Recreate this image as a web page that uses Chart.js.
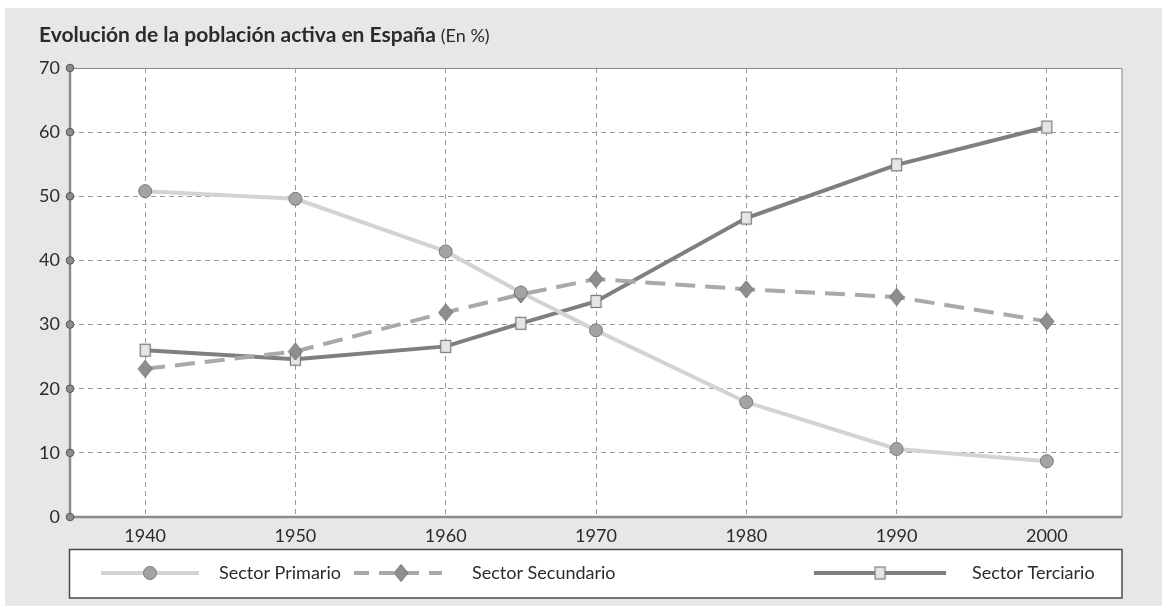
<!DOCTYPE html>
<html>
<head>
<meta charset="utf-8">
<script src="https://cdn.jsdelivr.net/npm/chart.js@4.4.1/dist/chart.umd.min.js"></script>
<style>
  html, body { margin: 0; padding: 0; background: #ffffff; }
  #wrap { width: 1162px; height: 606px; position: relative; }
</style>
</head>
<body>
<div id="wrap"><canvas id="c" width="1162" height="606"></canvas></div>
<script>
// ---- Data ----
const years = [1940, 1950, 1960, 1965, 1970, 1980, 1990, 2000];
const primario = [50.8, 49.6, 41.4, 35.0, 29.1, 17.9, 10.6, 8.7];
const secundario = [23.1, 25.8, 31.9, 34.7, 37.1, 35.5, 34.3, 30.5];
const terciario = [26.0, 24.6, 26.6, 30.2, 33.6, 46.6, 54.9, 60.8];
const xTickLabels = [1940, 1950, 1960, 1970, 1980, 1990, 2000];
const yTickLabels = [0, 10, 20, 30, 40, 50, 60, 70];
const seriesNames = ['Sector Primario', 'Sector Secundario', 'Sector Terciario'];
const titleBold = 'Evolución de la población activa en España';
const titleNormal = '(En %)';

const FONT = 'Lato, "Open Sans", sans-serif';
const TEXT = '#2b2b2b';

function makeDiamond(w, h, fill, stroke) {
  const c = document.createElement('canvas');
  c.width = w + 2; c.height = h + 2;
  const g = c.getContext('2d');
  g.beginPath();
  g.moveTo(c.width / 2, 1);
  g.lineTo(c.width - 1, c.height / 2);
  g.lineTo(c.width / 2, c.height - 1);
  g.lineTo(1, c.height / 2);
  g.closePath();
  g.fillStyle = fill; g.fill();
  g.strokeStyle = stroke; g.lineWidth = 1; g.stroke();
  return c;
}
function makeRect(w, h, fill, stroke) {
  const c = document.createElement('canvas');
  c.width = w + 2; c.height = h + 2;
  const g = c.getContext('2d');
  g.fillStyle = fill; g.fillRect(1, 1, w, h);
  g.strokeStyle = stroke; g.lineWidth = 1.2; g.strokeRect(1.5, 1.5, w - 1, h - 1);
  return c;
}
const diamondImg = makeDiamond(14, 17, '#8e8e90', '#6f6f6f');
const rectImg = makeRect(11, 13, '#e6e6e8', '#7a7a7a');

const toPts = arr => years.map((y, i) => ({ x: y, y: arr[i] }));

const framePlugin = {
  id: 'frame',
  beforeDraw(chart) {
    const ctx = chart.ctx, a = chart.chartArea;
    ctx.save();
    ctx.fillStyle = '#ffffff';
    ctx.fillRect(0, 0, chart.width, chart.height);
    ctx.fillStyle = '#e6e7e8';
    ctx.fillRect(5, 8, chart.width - 5, chart.height - 8);
    ctx.fillStyle = '#ffffff';
    ctx.fillRect(a.left, a.top, a.right - a.left, a.bottom - a.top);
    ctx.restore();
  },
  beforeDatasetsDraw(chart) {
    const ctx = chart.ctx, a = chart.chartArea;
    const ys = chart.scales.y;
    ctx.save();
    ctx.strokeStyle = '#8a8a8a'; ctx.lineWidth = 1;
    ctx.beginPath(); ctx.moveTo(a.left, a.top + 0.5); ctx.lineTo(a.right, a.top + 0.5); ctx.stroke();
    ctx.strokeStyle = '#a8a8a8'; ctx.lineWidth = 1.5;
    ctx.beginPath(); ctx.moveTo(a.right, a.top); ctx.lineTo(a.right, a.bottom); ctx.stroke();
    ctx.strokeStyle = '#8a8a8a'; ctx.lineWidth = 2.5;
    ctx.beginPath(); ctx.moveTo(a.left, a.top); ctx.lineTo(a.left, a.bottom); ctx.lineTo(a.right, a.bottom); ctx.stroke();
    yTickLabels.forEach(v => {
      const py = ys.getPixelForValue(v);
      ctx.beginPath(); ctx.arc(a.left, py, 3.8, 0, Math.PI * 2);
      ctx.fillStyle = '#8c8c8c'; ctx.fill();
      ctx.strokeStyle = '#555555'; ctx.lineWidth = 1; ctx.stroke();
    });
    ctx.restore();
  },
  afterDraw(chart) {
    const ctx = chart.ctx;
    ctx.save();
    ctx.textBaseline = 'alphabetic';
    ctx.fillStyle = TEXT;
    ctx.font = 'bold 21px ' + FONT;
    ctx.fillText(titleBold, 39, 42);
    const w = ctx.measureText(titleBold).width;
    ctx.font = '18px ' + FONT;
    ctx.fillText(titleNormal, 39 + w + 5, 42);
    // legend box
    ctx.fillStyle = '#ffffff';
    ctx.fillRect(69.5, 549.5, 1052.5, 48.5);
    ctx.strokeStyle = '#4a4a4a'; ctx.lineWidth = 1.5;
    ctx.strokeRect(69.5, 549.5, 1052.5, 48.5);
    const ly = 573;
    ctx.lineWidth = 4; ctx.strokeStyle = '#d3d3d3'; ctx.setLineDash([]);
    ctx.beginPath(); ctx.moveTo(101, ly); ctx.lineTo(199, ly); ctx.stroke();
    ctx.beginPath(); ctx.arc(150, ly, 6.5, 0, Math.PI * 2);
    ctx.fillStyle = '#a3a3a5'; ctx.fill(); ctx.strokeStyle = '#7a7a7a'; ctx.lineWidth = 1; ctx.stroke();
    ctx.lineWidth = 4; ctx.strokeStyle = '#a9a9a9'; ctx.setLineDash([15, 10]);
    ctx.beginPath(); ctx.moveTo(354, ly); ctx.lineTo(442, ly); ctx.stroke();
    ctx.setLineDash([]);
    ctx.drawImage(diamondImg, 401 - diamondImg.width / 2, ly - diamondImg.height / 2);
    ctx.lineWidth = 4; ctx.strokeStyle = '#7f7f7f';
    ctx.beginPath(); ctx.moveTo(814, ly); ctx.lineTo(946, ly); ctx.stroke();
    ctx.drawImage(rectImg, 880 - rectImg.width / 2, ly - rectImg.height / 2);
    ctx.fillStyle = TEXT; ctx.font = '18px ' + FONT; ctx.textBaseline = 'middle';
    ctx.fillText(seriesNames[0], 219, ly);
    ctx.fillText(seriesNames[1], 472, ly);
    ctx.fillText(seriesNames[2], 972, ly);
    ctx.restore();
  }
};

new Chart(document.getElementById('c'), {
  type: 'line',
  data: {
    datasets: [
      {
        label: seriesNames[0], data: toPts(primario),
        borderColor: '#d3d3d3', borderWidth: 4,
        pointStyle: 'circle', pointRadius: 6.5,
        pointBackgroundColor: '#a3a3a5', pointBorderColor: '#7a7a7a', pointBorderWidth: 1,
        tension: 0
      },
      {
        label: seriesNames[1], data: toPts(secundario),
        borderColor: '#a9a9a9', borderWidth: 4, borderDash: [20, 10],
        pointStyle: diamondImg, pointRadius: 8,
        tension: 0
      },
      {
        label: seriesNames[2], data: toPts(terciario),
        borderColor: '#7f7f7f', borderWidth: 4,
        pointStyle: rectImg, pointRadius: 7,
        tension: 0
      }
    ]
  },
  options: {
    responsive: false,
    animation: false,
    events: [],
    layout: { padding: { top: 68, right: 40, left: 0, bottom: 0 } },
    plugins: { legend: { display: false }, tooltip: { enabled: false }, title: { display: false } },
    scales: {
      x: {
        type: 'linear', min: 1935, max: 2005,
        afterBuildTicks: axis => { axis.ticks = xTickLabels.map(v => ({ value: v })); },
        afterFit: s => { s.height = 89; },
        grid: { color: '#9a9a9a', lineWidth: 1, drawTicks: false },
        border: { display: false, dash: [5, 4] },
        ticks: { padding: 8, color: TEXT, font: { family: FONT, size: 18 }, callback: v => String(v), maxRotation: 0 }
      },
      y: {
        min: 0, max: 70,
        afterBuildTicks: axis => { axis.ticks = yTickLabels.map(v => ({ value: v })); },
        afterFit: s => { s.width = 70; },
        grid: { color: '#9a9a9a', lineWidth: 1, drawTicks: false },
        border: { display: false, dash: [5, 4] },
        ticks: { padding: 10, color: TEXT, font: { family: FONT, size: 18 } }
      }
    }
  },
  plugins: [framePlugin]
});
</script>
</body>
</html>
